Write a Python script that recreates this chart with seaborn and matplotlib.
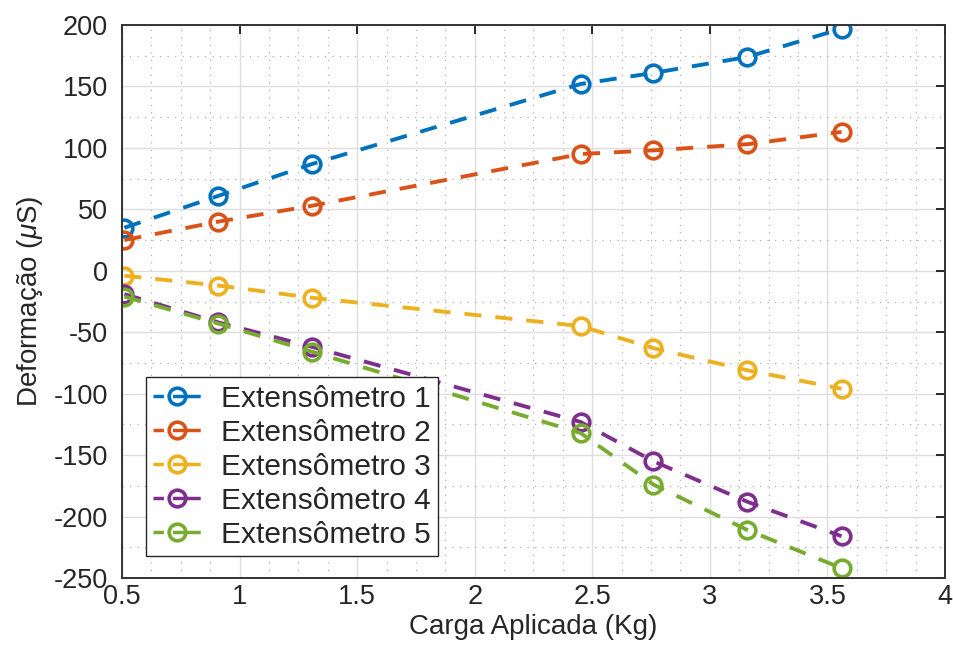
import matplotlib
matplotlib.use("Agg")
import matplotlib.pyplot as plt
import seaborn as sns
import numpy as np
from matplotlib.ticker import MultipleLocator

carga = [0.51, 0.91, 1.31, 2.45, 2.76, 3.16, 3.56]
ext1 = [35, 61, 87, 152, 161, 174, 197]
ext2 = [25, 40, 53, 95, 98, 103, 113]
ext3 = [-4, -12, -22, -45, -63, -81, -96]
ext4 = [-19, -42, -62, -123, -155, -188, -216]
ext5 = [-21, -43, -66, -132, -174, -211, -242]
labels = ["Extensômetro 1", "Extensômetro 2", "Extensômetro 3", "Extensômetro 4", "Extensômetro 5"]
series = [ext1, ext2, ext3, ext4, ext5]
colors = ["#0072BD", "#D95319", "#EDB120", "#7E2F8E", "#77AC30"]
xtick_labels = ["0.5", "1", "1.5", "2", "2.5", "3", "3.5", "4"]

sns.set_theme(style="white")
plt.rcParams['font.family'] = ['Liberation Sans', 'DejaVu Sans']
plt.rcParams['mathtext.fontset'] = 'custom'
plt.rcParams['mathtext.it'] = 'Liberation Sans:italic'
plt.rcParams['mathtext.rm'] = 'Liberation Sans'
plt.rcParams['axes.unicode_minus'] = False

txt = '#262626'
fig = plt.figure(figsize=(9.54, 6.59), dpi=100)
ax = fig.add_axes([122/954, 1-578/659, (945-122)/954, (578-25)/659])

for lab, ys, c in zip(labels, series, colors):
    sns.lineplot(x=carga, y=ys, ax=ax, color=c, linestyle=(0, (4.4, 3.6)), linewidth=2.8,
                 marker='o', markersize=12, markerfacecolor='none', markeredgecolor=c,
                 markeredgewidth=2.6, label=lab, sort=False)

ax.set_xlim(0.5, 4)
ax.set_ylim(-250, 200)
ax.xaxis.set_minor_locator(MultipleLocator(0.125))
ax.yaxis.set_major_locator(MultipleLocator(50))
ax.yaxis.set_minor_locator(MultipleLocator(25))
ax.set_xticks(np.arange(0.5, 4.01, 0.5))
ax.set_xticklabels(xtick_labels)
ax.grid(True, which='major', color='#dedede', linewidth=1.0, linestyle='-')
ax.grid(True, which='minor', color='#b0b0b0', linewidth=0.9, linestyle=(0, (1, 5)))
ax.set_axisbelow(True)
ax.tick_params(axis='both', which='major', direction='in', length=6.5, width=1.4,
               top=True, right=True, labelsize=19.5, colors=txt)
ax.tick_params(axis='x', which='major', pad=4)
ax.tick_params(axis='y', which='major', pad=10)
ax.tick_params(axis='both', which='minor', length=0, top=True, right=True)
for s in ax.spines.values():
    s.set_color('#333333')
    s.set_linewidth(1.4)

ax.set_xlabel("Carga Aplicada (Kg)", fontsize=20, color=txt, labelpad=3)
ax.set_ylabel(r"Deformação ($\mu$S)", fontsize=20, color=txt, labelpad=6)

leg = ax.legend(loc='lower left', bbox_to_anchor=(24/823, 22/553), fontsize=21.5, frameon=True,
                fancybox=False, edgecolor='#262626', framealpha=1, borderpad=0.25,
                handlelength=1.6, handletextpad=0.65, labelspacing=0.2, numpoints=1,
                borderaxespad=0.0)
leg.get_frame().set_linewidth(1.0)
for t in leg.get_texts():
    t.set_color(txt)
for ln in leg.get_lines():
    ln.set_linestyle((0, (3.0, 2.6, 8.0, 5.0)))
    ln.set_linewidth(2.5)

fig.savefig("out.png", dpi=100)
